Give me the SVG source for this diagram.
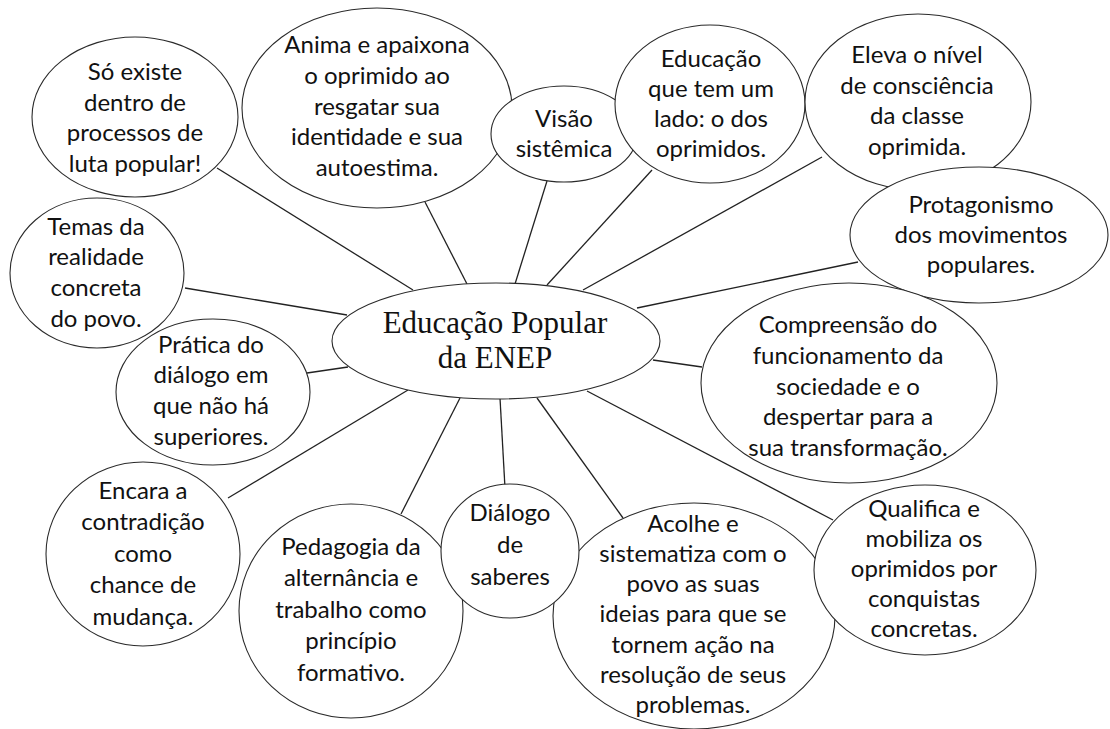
<svg xmlns="http://www.w3.org/2000/svg" width="1110" height="729" viewBox="0 0 1110 729">
<style>
.n{fill:#fff;stroke:#2a2a2a;stroke-width:1.1}
.t{font-family:Lato,"Open Sans",sans-serif;font-size:24px;fill:#111;text-anchor:middle}
.c{font-family:"Liberation Serif","Times New Roman",serif;font-size:31px;fill:#111;text-anchor:middle}
.e line{stroke:#222;stroke-width:1.3}
</style>
<rect width="1110" height="729" fill="#fff"/>
<g id="connectors" class="e">
<line x1="217" y1="168" x2="413" y2="290"/>
<line x1="425" y1="202" x2="467" y2="284"/>
<line x1="547" y1="181" x2="515" y2="284"/>
<line x1="652" y1="170" x2="547" y2="285"/>
<line x1="822" y1="157" x2="583" y2="290"/>
<line x1="858" y1="262" x2="637" y2="308"/>
<line x1="702" y1="367" x2="653" y2="360"/>
<line x1="833" y1="520" x2="587" y2="391"/>
<line x1="623" y1="518" x2="537" y2="398"/>
<line x1="505" y1="488" x2="500" y2="398"/>
<line x1="401" y1="514" x2="460" y2="398"/>
<line x1="228" y1="498" x2="408" y2="390"/>
<line x1="307" y1="373" x2="348" y2="367"/>
<line x1="185" y1="288" x2="347" y2="315"/>
</g>
<g id="n-so">
<ellipse class="n" cx="135" cy="117" rx="103" ry="80"/>
<text class="t" x="135" y="80">Só existe</text>
<text class="t" x="135" y="111">dentro de</text>
<text class="t" x="135" y="141">processos de</text>
<text class="t" x="135" y="172">luta popular!</text>
</g>
<g id="n-anima">
<ellipse class="n" cx="377" cy="108" rx="135" ry="100"/>
<text class="t" x="377" y="53">Anima e apaixona</text>
<text class="t" x="377" y="84">o oprimido ao</text>
<text class="t" x="377" y="115">resgatar sua</text>
<text class="t" x="377" y="145">identidade e sua</text>
<text class="t" x="377" y="176">autoestima.</text>
</g>
<g id="n-visao">
<ellipse class="n" cx="564" cy="134" rx="73" ry="48"/>
<text class="t" x="564" y="127">Visão</text>
<text class="t" x="564" y="157">sistêmica</text>
</g>
<g id="n-lado">
<ellipse class="n" cx="710" cy="104" rx="95" ry="79"/>
<text class="t" x="711" y="67">Educação</text>
<text class="t" x="711" y="97">que tem um</text>
<text class="t" x="711" y="127">lado: o dos</text>
<text class="t" x="711" y="157">oprimidos.</text>
</g>
<g id="n-eleva">
<ellipse class="n" cx="918" cy="102" rx="113" ry="88"/>
<text class="t" x="917" y="63">Eleva o nível</text>
<text class="t" x="917" y="94">de consciência</text>
<text class="t" x="917" y="124">da classe</text>
<text class="t" x="917" y="155">oprimida.</text>
</g>
<g id="n-protag">
<ellipse class="n" cx="979" cy="235" rx="129" ry="68"/>
<text class="t" x="981" y="213">Protagonismo</text>
<text class="t" x="981" y="243">dos movimentos</text>
<text class="t" x="981" y="273">populares.</text>
</g>
<g id="n-compreensao">
<ellipse class="n" cx="849" cy="383" rx="148" ry="100"/>
<text class="t" x="848" y="333">Compreensão do</text>
<text class="t" x="848" y="364">funcionamento da</text>
<text class="t" x="848" y="395">sociedade e o</text>
<text class="t" x="848" y="425">despertar para a</text>
<text class="t" x="848" y="456">sua transformação.</text>
</g>
<g id="n-acolhe">
<ellipse class="n" cx="694" cy="616" rx="141" ry="113"/>
<text class="t" x="693" y="532">Acolhe e</text>
<text class="t" x="693" y="562">sistematiza com o</text>
<text class="t" x="693" y="592">povo as suas</text>
<text class="t" x="693" y="622">ideias para que se</text>
<text class="t" x="693" y="653">tornem ação na</text>
<text class="t" x="693" y="683">resolução de seus</text>
<text class="t" x="693" y="713">problemas.</text>
</g>
<g id="n-qualifica">
<ellipse class="n" cx="925" cy="570" rx="111" ry="85"/>
<text class="t" x="924" y="517">Qualifica e</text>
<text class="t" x="924" y="547">mobiliza os</text>
<text class="t" x="924" y="577">oprimidos por</text>
<text class="t" x="924" y="607">conquistas</text>
<text class="t" x="924" y="637">concretas.</text>
</g>
<g id="n-pedagogia">
<ellipse class="n" cx="351" cy="611" rx="112" ry="107"/>
<text class="t" x="351" y="555">Pedagogia da</text>
<text class="t" x="351" y="586">alternância e</text>
<text class="t" x="351" y="618">trabalho como</text>
<text class="t" x="351" y="649">princípio</text>
<text class="t" x="351" y="681">formativo.</text>
</g>
<g id="n-dialogo">
<ellipse class="n" cx="510" cy="551" rx="69" ry="67"/>
<text class="t" x="510" y="521">Diálogo</text>
<text class="t" x="510" y="553">de</text>
<text class="t" x="510" y="585">saberes</text>
</g>
<g id="n-temas">
<ellipse class="n" cx="97" cy="273" rx="87" ry="75"/>
<text class="t" x="96" y="235">Temas da</text>
<text class="t" x="96" y="265">realidade</text>
<text class="t" x="96" y="296">concreta</text>
<text class="t" x="96" y="327">do povo.</text>
</g>
<g id="n-pratica">
<ellipse class="n" cx="213" cy="392" rx="97" ry="73"/>
<text class="t" x="211" y="353">Prática do</text>
<text class="t" x="211" y="383">diálogo em</text>
<text class="t" x="211" y="414">que não há</text>
<text class="t" x="211" y="445">superiores.</text>
</g>
<g id="n-encara">
<ellipse class="n" cx="143" cy="554" rx="97" ry="92"/>
<text class="t" x="143" y="499">Encara a</text>
<text class="t" x="143" y="530">contradição</text>
<text class="t" x="143" y="562">como</text>
<text class="t" x="143" y="593">chance de</text>
<text class="t" x="143" y="625">mudança.</text>
</g>
<g id="n-center">
<ellipse class="n" cx="496" cy="341" rx="164" ry="58"/>
<text class="c" x="495" y="333">Educação Popular</text>
<text class="c" x="495" y="368">da ENEP</text>
</g>
</svg>
